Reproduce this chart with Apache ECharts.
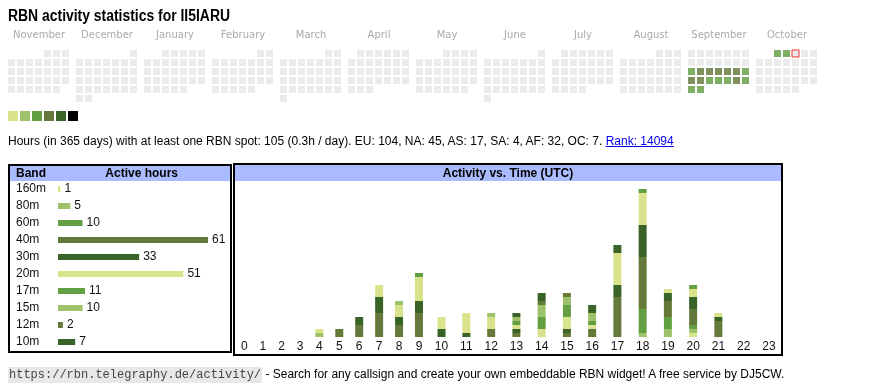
<!DOCTYPE html>
<html><head><meta charset="utf-8">
<script src="https://cdn.jsdelivr.net/npm/echarts@6/dist/echarts.min.js"></script>
<style>
body{margin:0;width:870px;height:390px;overflow:hidden;background:#fff;font-family:'Liberation Sans',Arial,sans-serif;color:#000;position:relative}
.abs{position:absolute;white-space:nowrap}
.hdr{font-weight:bold;font-size:12px;line-height:15px}
a{color:#0000ee;text-decoration:underline}
</style></head><body>
<div class="abs" style="left:8px;top:164px;width:224px;height:189px;border:2px solid #000;box-sizing:border-box"></div>
<div class="abs" style="left:10px;top:166px;width:220px;height:15px;background:#aabbff"></div>
<div class="abs" style="left:233px;top:163px;width:550px;height:193px;border:2px solid #000;box-sizing:border-box"></div>
<div class="abs" style="left:235px;top:165px;width:546px;height:16px;background:#aabbff"></div>
<div id="chart" class="abs" style="left:0;top:0;width:870px;height:390px"></div>
<div class="abs" style="left:8px;top:6px;font-weight:bold;font-size:16px;line-height:20px;transform:scaleX(0.87);transform-origin:0 0">RBN activity statistics for II5IARU</div>
<div class="abs" style="left:8px;top:134px;font-size:12px;line-height:15px">Hours (in 365 days) with at least one RBN spot: 105 (0.3h / day). EU: 104, NA: 45, AS: 17, SA: 4, AF: 32, OC: 7. <a href="#">Rank: 14094</a></div>
<div class="abs hdr" style="left:16px;top:165.5px">Band</div>
<div class="abs hdr" style="left:141.7px;top:165.5px;transform:translateX(-50%)">Active hours</div>
<div class="abs hdr" style="left:508px;top:165.5px;transform:translateX(-50%)">Activity vs. Time (UTC)</div>
<div class="abs" style="left:8px;top:366px;font-size:12px;line-height:16px"><span style="font-family:'Liberation Mono',monospace;font-size:12px;color:#444;background:#e8e8e8;padding:1px 1px">https://rbn.telegraphy.de/activity/</span> - Search for any callsign and create your own embeddable RBN widget! A free service by DJ5CW.</div>
<script>
// ---------- data ----------
const palette = ['#d9e38b', '#9dc26a', '#63a043', '#65793a', '#3a6427', '#000000'];
const monthNames = ['November','December','January','February','March','April','May','June','July','August','September','October'];
const monthKeys = ['2024-11','2024-12','2025-01','2025-02','2025-03','2025-04','2025-05','2025-06','2025-07','2025-08','2025-09','2025-10'];
const calendarDays = ['2025-09-15','2025-09-16','2025-09-17','2025-09-18','2025-09-19','2025-09-20','2025-09-21',
  '2025-09-22','2025-09-23','2025-09-24','2025-09-25','2025-09-26','2025-09-27','2025-09-28',
  '2025-09-29','2025-09-30','2025-10-01','2025-10-02'];
const calendarLevels = [3,4,4,4,4,4,3, 4,4,3,3,3,4,3, 3,3,3,3];
const todayDate = '2025-10-03';
const levelValues = [1,2,3,4,5,6];

const bands = ['160m','80m','60m','40m','30m','20m','17m','15m','12m','10m'];
const bandHours = [1,5,10,61,33,51,11,10,2,7];
const bandColorIdx = [0,1,2,3,4,0,2,1,3,4];

const hours = ['0','1','2','3','4','5','6','7','8','9','10','11','12','13','14','15','16','17','18','19','20','21','22','23'];
const hourly160m = [0,0,0,0,0,0,0,0,0,0,0,0,0,0,0,0,0,0,0,0,1,0,0,0];
const hourly80m  = [0,0,0,0,1,0,0,0,0,0,0,0,0,0,0,0,0,0,1,2,1,0,0,0];
const hourly60m  = [0,0,0,0,0,0,0,0,0,0,0,0,0,0,0,0,0,0,6,3,1,0,0,0];
const hourly40m  = [0,0,0,0,0,2,3,6,3,6,0,0,2,1,0,1,2,10,13,4,4,4,0,0];
const hourly30m  = [0,0,0,0,0,0,2,4,2,3,2,1,0,1,0,1,0,3,8,2,3,1,0,0];
const hourly20m  = [0,0,0,0,1,0,0,3,3,6,3,5,3,1,2,3,1,8,8,1,2,1,0,0];
const hourly17m  = [0,0,0,0,0,0,0,0,0,1,0,0,0,1,3,3,1,0,1,0,1,0,0,0];
const hourly15m  = [0,0,0,0,0,0,0,0,1,0,0,0,1,1,3,2,2,0,0,0,0,0,0,0];
const hourly12m  = [0,0,0,0,0,0,0,0,0,0,0,0,0,0,1,1,0,0,0,0,0,0,0,0];
const hourly10m  = [0,0,0,0,0,0,0,0,0,0,0,0,0,1,2,0,2,2,0,0,0,0,0,0];
const hourlyByBand = [hourly160m,hourly80m,hourly60m,hourly40m,hourly30m,hourly20m,hourly17m,hourly15m,hourly12m,hourly10m];

// ---------- layout helpers ----------
const FONT = "'Liberation Sans', Arial, sans-serif";
const HOUR_BAR_W = 8;
const CELL_PAD = 12;
const HOUR_LEFT = 235, HOUR_WIDTH = 546.5, HOUR_BASE = 337, UNIT_PX = 4;
const ctx = document.createElement('canvas').getContext('2d');
ctx.font = "12px 'Liberation Sans', Arial, sans-serif";
const totals = hours.map((h, i) => hourlyByBand.reduce((s, a) => s + a[i], 0));
// auto table column widths (content + padding), like an html table
const colW = hours.map((h, i) => Math.max(ctx.measureText(h).width, totals[i] > 0 ? HOUR_BAR_W : 0) + CELL_PAD);
const totalW = colW.reduce((a, b) => a + b, 0);
const scale = HOUR_WIDTH / totalW;
const maxTotal = Math.max.apply(null, totals);
// group consecutive hours with equal column width into one grid
const groups = [];
hours.forEach((h, i) => {
  const g = groups[groups.length - 1];
  if (g && Math.abs(colW[g.start] - colW[i]) < 0.01) g.end = i;
  else groups.push({start: i, end: i});
});
const bandColor = bi => palette[bandColorIdx[bi]];

const chart = echarts.init(document.getElementById('chart'), null, {renderer: 'canvas'});

const calendars = monthKeys.map((k, i) => ({
  orient: 'vertical', range: k, left: 7 + 68 * i, top: 49, cellSize: [9, 9],
  splitLine: {show: false},
  itemStyle: {color: '#ebebeb', borderColor: '#ffffff', borderWidth: 2},
  dayLabel: {show: false, firstDay: 1},
  monthLabel: {show: false}, yearLabel: {show: false}
}));

const series = [];
const calSeriesIdx = [];
monthKeys.forEach((k, i) => {
  const pts = [];
  calendarDays.forEach((d, j) => { if (d.indexOf(k) === 0) pts.push([d, calendarLevels[j]]); });
  if (pts.length) {
    calSeriesIdx.push(series.length);
    series.push({type: 'scatter', coordinateSystem: 'calendar', calendarIndex: i, symbol: 'rect', symbolSize: 7, silent: true, data: pts});
  }
});
const todayIdx = monthKeys.findIndex(k => todayDate.indexOf(k) === 0);
series.push({type: 'scatter', coordinateSystem: 'calendar', calendarIndex: todayIdx, symbol: 'rect', symbolSize: 7, silent: true,
  itemStyle: {color: '#ebebeb', borderColor: '#ff0000', borderWidth: 1}, data: [[todayDate, 0]]});

series.push({
  type: 'bar', xAxisIndex: 0, yAxisIndex: 0, barWidth: 6, silent: true,
  data: bandHours.map((v, i) => ({value: v, itemStyle: {color: bandColor(i)}})),
  label: {show: true, position: 'right', distance: 4, fontSize: 12, color: '#111', fontFamily: FONT}
});

const grids = [{left: 58, top: 180.5, width: 150, height: 170}];
const xAxes = [{gridIndex: 0, type: 'value', min: 0, max: 'dataMax', show: false}];
const yAxes = [{gridIndex: 0, type: 'category', data: bands, inverse: true,
  axisLine: {show: false}, axisTick: {show: false}, splitLine: {show: false},
  axisLabel: {align: 'left', margin: 42, fontSize: 12, color: '#111', fontFamily: FONT}}];

let accW = 0;
groups.forEach((g, gi) => {
  let w = 0;
  for (let i = g.start; i <= g.end; i++) w += colW[i];
  const idx = gi + 1;
  grids.push({left: HOUR_LEFT + accW * scale, width: w * scale, top: HOUR_BASE - maxTotal * UNIT_PX, height: maxTotal * UNIT_PX});
  accW += w;
  xAxes.push({gridIndex: idx, type: 'category', data: hours.slice(g.start, g.end + 1),
    axisLine: {show: false}, axisTick: {show: false}, splitLine: {show: false},
    axisLabel: {interval: 0, margin: 4, fontSize: 12, color: '#111', fontFamily: FONT}});
  yAxes.push({gridIndex: idx, type: 'value', min: 0, max: maxTotal, show: false});
  bands.forEach((b, bi) => {
    series.push({
      type: 'bar', name: b, stack: 'hours' + gi, xAxisIndex: idx, yAxisIndex: idx, barWidth: HOUR_BAR_W, silent: true,
      itemStyle: {color: bandColor(bi)},
      data: hourlyByBand[bi].slice(g.start, g.end + 1)
    });
  });
});

const graphics = monthNames.map((m, i) => ({
  type: 'text', x: 7 + 68 * i + 32, y: 35, silent: true,
  style: {text: m, fill: '#aaaaaa', font: "10px 'DejaVu Sans', Verdana, sans-serif", align: 'center', verticalAlign: 'middle'}
}));

chart.setOption({
  animation: false,
  calendar: calendars,
  visualMap: {
    type: 'piecewise', seriesIndex: calSeriesIdx, orient: 'horizontal', left: 8, top: 111, padding: 0,
    itemWidth: 10, itemHeight: 10, itemGap: 2, itemSymbol: 'rect', showLabel: false, selectedMode: false,
    pieces: levelValues.map((v, i) => ({value: v, color: palette[i]}))
  },
  grid: grids,
  xAxis: xAxes,
  yAxis: yAxes,
  graphic: graphics,
  series: series
});
</script>
</body></html>
